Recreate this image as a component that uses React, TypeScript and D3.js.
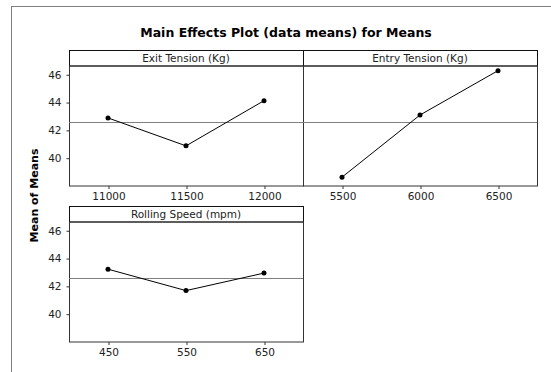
import { useEffect, useRef } from "react"
import * as d3 from "d3"

// factor names, levels and the mean response at each level
const factorNames = ["Exit Tension (Kg)", "Entry Tension (Kg)", "Rolling Speed (mpm)"]
const exitLevels = ["11000", "11500", "12000"]
const exitMeans = [42.86, 40.85, 44.1]
const entryLevels = ["5500", "6000", "6500"]
const entryMeans = [38.6, 43.07, 46.26]
const speedLevels = ["450", "550", "650"]
const speedMeans = [43.2, 41.66, 42.92]
const grandMean = 42.58
const yTicks = [40, 42, 44, 46]
const yDomain: [number, number] = [38.0, 46.63]

const FONT = "'DejaVu Sans', Verdana, sans-serif"

export default function App() {
  const svgRef = useRef<SVGSVGElement>(null)

  useEffect(() => {
    if (!svgRef.current) return
    const svg = d3.select(svgRef.current)
    svg.selectAll("*").remove()

    const panels = [
      { name: factorNames[0], levels: exitLevels, means: exitMeans, col: 0, row: 0 },
      { name: factorNames[1], levels: entryLevels, means: entryMeans, col: 1, row: 0 },
      { name: factorNames[2], levels: speedLevels, means: speedMeans, col: 0, row: 1 },
    ]

    const colX = [69, 303]
    const rowTop = [50, 206]
    const panelW = 234
    const stripH = 15.5
    const plotH = 120

    // outer frame
    svg.append("rect")
      .attr("x", 11.5)
      .attr("y", 6.5)
      .attr("width", 700)
      .attr("height", 500)
      .attr("fill", "none")
      .attr("stroke", "#808080")

    svg.append("text")
      .attr("x", 286)
      .attr("y", 36.5)
      .attr("text-anchor", "middle")
      .style("font-family", FONT)
      .style("font-size", "12.5px")
      .style("font-weight", "bold")
      .text("Main Effects Plot (data means) for Means")

    svg.append("text")
      .attr("transform", "translate(37.5,195.5) rotate(-90)")
      .attr("text-anchor", "middle")
      .style("font-family", FONT)
      .style("font-size", "11px")
      .style("font-weight", "bold")
      .text("Mean of Means")

    panels.forEach((p) => {
      const x0 = colX[p.col]
      const top = rowTop[p.row]
      const plotTop = top + stripH
      const plotBottom = plotTop + plotH

      const x = d3.scalePoint<string>().domain(p.levels).range([x0, x0 + panelW]).padding(0.5)
      const y = d3.scaleLinear().domain(yDomain).range([plotBottom, plotTop])

      const g = svg.append("g")

      // strip
      g.append("rect")
        .attr("x", x0 + 0.5)
        .attr("y", top + 0.5)
        .attr("width", panelW)
        .attr("height", stripH)
        .attr("fill", "white")
        .attr("stroke", "#111")

      g.append("text")
        .attr("x", x0 + panelW / 2)
        .attr("y", top + 12)
        .attr("text-anchor", "middle")
        .style("font-family", FONT)
        .style("font-size", "10.5px")
        .style("fill", "#222")
        .text(p.name)

      // plot frame
      g.append("rect")
        .attr("x", x0 + 0.5)
        .attr("y", plotTop + 0.5)
        .attr("width", panelW)
        .attr("height", plotH)
        .attr("fill", "none")
        .attr("stroke", "#333")

      // grand mean reference line
      g.append("line")
        .attr("x1", x0)
        .attr("x2", x0 + panelW)
        .attr("y1", Math.round(y(grandMean)) + 0.5)
        .attr("y2", Math.round(y(grandMean)) + 0.5)
        .attr("stroke", "#808080")

      // x axis
      const xAxis = g.append("g")
        .attr("transform", `translate(0.5,${plotBottom + 0.5})`)
        .call(d3.axisBottom(x).tickSize(3).tickPadding(4))
      xAxis.select(".domain").remove()
      xAxis.selectAll("line").attr("stroke", "#333")
      xAxis.selectAll("text")
        .style("font-family", FONT)
        .style("font-size", "10.5px")
        .style("fill", "#222")

      // y axis only on left column
      if (p.col === 0) {
        const yAxis = g.append("g")
          .attr("transform", `translate(${x0 + 0.5},0.5)`)
          .call(d3.axisLeft(y).tickValues(yTicks).tickSize(3).tickPadding(5))
        yAxis.select(".domain").remove()
        yAxis.selectAll("line").attr("stroke", "#333")
        yAxis.selectAll("text")
          .style("font-family", FONT)
          .style("font-size", "10.5px")
          .style("fill", "#222")
      }

      const pts = p.levels.map((l, i) => ({ level: l, mean: p.means[i] }))

      const line = d3
        .line<(typeof pts)[0]>()
        .x((d) => x(d.level) as number)
        .y((d) => y(d.mean))

      g.append("path")
        .datum(pts)
        .attr("fill", "none")
        .attr("stroke", "#000")
        .attr("stroke-width", 1)
        .attr("d", line)

      g.selectAll("circle.pt")
        .data(pts)
        .enter()
        .append("circle")
        .attr("class", "pt")
        .attr("cx", (d) => x(d.level) as number)
        .attr("cy", (d) => y(d.mean))
        .attr("r", 2.5)
        .attr("fill", "#000")
    })
  }, [])

  return (
    <svg
      ref={svgRef}
      width={551}
      height={372}
      style={{ position: "absolute", left: 0, top: 0, background: "white" }}
    />
  )
}
